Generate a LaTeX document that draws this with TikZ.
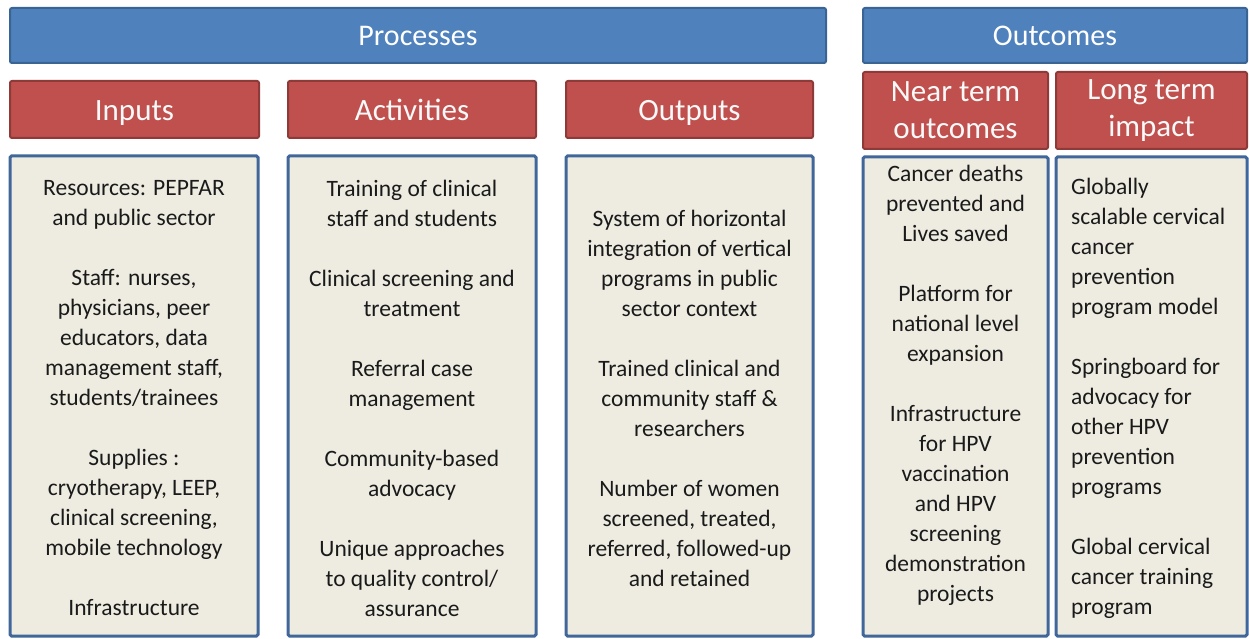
\documentclass[tikz,border=0pt]{standalone}
\usepackage{fontspec}
\setmainfont{Carlito}
\definecolor{barblue}{HTML}{4F81BD}
\definecolor{barblueborder}{HTML}{3A6494}
\definecolor{barred}{HTML}{C0504D}
\definecolor{barredborder}{HTML}{8E3A38}
\definecolor{boxfill}{HTML}{EEECE1}
\definecolor{boxborder}{HTML}{41679A}
\definecolor{txtcol}{HTML}{1A1A1A}
\begin{document}
\begin{tikzpicture}[x=1pt,y=1pt,
  bluebar/.style={draw=barblueborder, line width=2pt, fill=barblue, rounded corners=2pt,
    text=white, font=\fontsize{30}{36}\selectfont, inner sep=0pt, text height=23pt, text depth=3pt},
  redbar/.style={draw=barredborder, line width=2pt, fill=barred, rounded corners=2pt,
    text=white!95!gray, font=\fontsize{31}{37}\selectfont, align=center, inner sep=0pt},
  redone/.style={redbar, minimum height=57, text height=26pt, text depth=3pt},
  contentbox/.style={draw=boxborder, line width=3pt, fill=boxfill, rounded corners=1.5pt, inner sep=0pt},
  ctext/.style={text=txtcol, font=\fontsize{23.5}{30}\selectfont, align=center, inner sep=0pt},
  ltext/.style={text=txtcol, font=\fontsize{23.5}{30}\selectfont, align=left, inner sep=0pt}
]
\useasboundingbox (0,0) rectangle (1249,638);
% top bars
\node[bluebar, minimum width=816, minimum height=55] (proc) at (418,602.5) {Processes};
\node[bluebar, minimum width=384, minimum height=55] (outc) at (1055,602.5) {Outcomes};
% red headers
\node[redone, minimum width=249] (inp) at (134.5,528.5) {Inputs};
\node[redone, minimum width=248] (act) at (412,528.5) {Activities};
\node[redone, minimum width=247] (outp) at (689.5,528.5) {Outputs};
\node[redbar, minimum width=185, minimum height=77] (near) at (955.5,527.5) {Near term\\outcomes};
\node[redbar, minimum width=191, minimum height=77] (long) at (1151.5,527.5) {Long term\\impact};
% content boxes
\node[contentbox, minimum width=248, minimum height=480] (inpbox) at (134,242) {};
\node[contentbox, minimum width=248, minimum height=480] (actbox) at (412,242) {};
\node[contentbox, minimum width=247, minimum height=480] (outpbox) at (689.5,242) {};
\node[contentbox, minimum width=185, minimum height=479] (nearbox) at (955.5,241.5) {};
\node[contentbox, minimum width=191, minimum height=479] (longbox) at (1151.5,241.5) {};
% texts
\node[ctext] (inptxt) at ([yshift=-2]inpbox.center) {Resources: PEPFAR\\and public sector\\[30pt]
Staff: nurses,\\physicians, peer\\educators, data\\management staff,\\students/trainees\\[30pt]
Supplies :\\cryotherapy, LEEP,\\clinical screening,\\mobile technology\\[30pt]
Infrastructure};
\node[ctext] (acttxt) at ([yshift=-2]actbox.center) {Training of clinical\\staff and students\\[30pt]
Clinical screening and\\treatment\\[30pt]
Referral case\\management\\[30pt]
Community-based\\advocacy\\[30pt]
Unique approaches\\to quality control/\\assurance};
\node[ctext] (outptxt) at ([yshift=-2]outpbox.center) {System of horizontal\\integration of vertical\\programs in public\\sector context\\[30pt]
Trained clinical and\\community staff \&\\researchers\\[30pt]
Number of women\\screened, treated,\\referred, followed-up\\and retained};
\node[ctext] (neartxt) at ([yshift=11]nearbox.center) {Cancer deaths\\prevented and\\Lives saved\\[30pt]
Platform for\\national level\\expansion\\[30pt]
Infrastructure\\for HPV\\vaccination\\and HPV\\screening\\demonstration\\projects};
\node[ltext, anchor=west] (longtxt) at (1071,240) {Globally\\scalable cervical\\cancer\\prevention\\program model\\[30pt]
Springboard for\\advocacy for\\other HPV\\prevention\\programs\\[30pt]
Global cervical\\cancer training\\program};
\end{tikzpicture}
\end{document}
